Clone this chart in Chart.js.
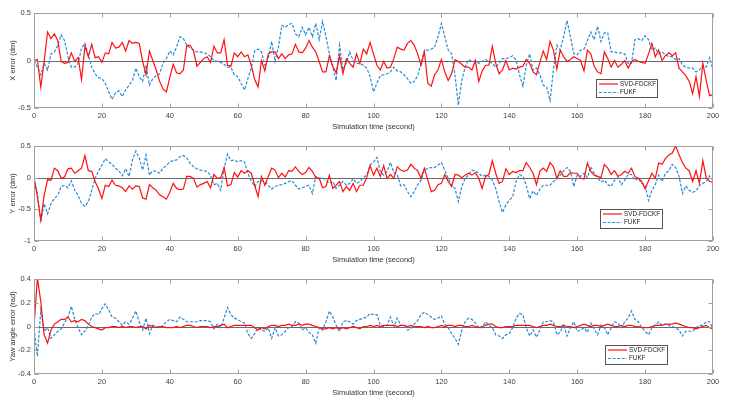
<!DOCTYPE html>
<html>
<head>
<meta charset="utf-8">
<script src="https://cdn.jsdelivr.net/npm/chart.js@4.4.1/dist/chart.umd.min.js"></script>
<style>
  html, body { margin: 0; padding: 0; background: #fff; }
  #wrap { position: relative; width: 729px; height: 402px; }
  .panel { position: absolute; left: 0; width: 729px; height: 134px; }
</style>
</head>
<body>
<div id="wrap">
  <div class="panel" style="top:0px"><canvas id="cX" width="729" height="134"></canvas></div>
  <div class="panel" style="top:133px"><canvas id="cY" width="729" height="134"></canvas></div>
  <div class="panel" style="top:266px"><canvas id="cYaw" width="729" height="134"></canvas></div>
</div>
<script>
// simulation time axis, one sample per second
const time = Array.from({length: 201}, (_, i) => i);
const timeTicks = [0, 20, 40, 60, 80, 100, 120, 140, 160, 180, 200];

const seriesNames = ['SVD-FDCKF', 'FUKF'];

// X error (dm)
const xErrFdckf = [
  0,0.01,-0.28,-0.01,0.30,0.23,0.28,0.21,-0.01,-0.03,
  -0.02,0.08,-0.01,0.03,-0.20,0.15,0.04,0.17,0.03,0.04,
  -0.02,0.08,0.07,0.19,0.13,0.14,0.19,0.10,0.21,0.18,
  0.19,0.18,-0.01,-0.15,0.10,0.00,-0.10,-0.22,-0.30,-0.33,
  -0.18,-0.04,-0.13,-0.14,-0.10,0.16,0.16,0.10,-0.06,-0.02,
  0.02,0.04,-0.02,0.15,0.08,0.08,0.22,-0.05,-0.06,0.08,
  0.04,0.09,0.04,0.06,-0.05,-0.20,-0.28,0.00,-0.11,0.07,
  0.09,0.09,0.02,0.07,0.02,0.06,0.07,0.17,0.09,0.08,
  0.13,0.21,0.14,0.09,-0.01,-0.12,-0.12,0.05,-0.06,-0.13,
  0.05,-0.14,0.02,-0.03,-0.07,0.07,-0.03,0.12,0.07,0.19,
  0.07,-0.05,-0.10,-0.01,-0.08,-0.07,0.02,0.14,0.12,0.11,
  0.18,0.21,0.16,0.07,-0.05,0.09,-0.24,-0.27,-0.15,-0.10,
  0.01,-0.12,-0.21,-0.14,0.01,-0.01,-0.04,-0.07,-0.07,-0.10,
  0.00,-0.22,-0.11,-0.05,-0.05,0.15,-0.03,-0.14,-0.10,0.00,
  -0.10,-0.08,-0.09,-0.07,-0.06,0.01,-0.03,-0.12,-0.15,-0.02,
  0.10,0.01,0.20,0.11,-0.09,0.11,0.04,-0.01,0.01,0.04,
  0.02,0.00,-0.11,0.11,0.07,-0.06,-0.12,-0.14,0.09,0.02,
  -0.07,0.00,-0.07,-0.04,0.00,-0.08,-0.01,0.01,-0.01,-0.02,
  -0.03,0.07,0.18,0.04,0.11,0.00,0.05,0.08,0.05,0.08,
  -0.08,-0.12,-0.16,-0.22,-0.35,-0.17,-0.38,-0.03,-0.21,-0.37,
  -0.36
];
const xErrFukf = [
  0,-0.07,-0.15,-0.03,-0.10,0.07,0.09,0.16,0.27,0.21,
  0.04,-0.07,-0.07,-0.03,0.13,0.18,0.06,-0.07,-0.14,-0.18,
  -0.19,-0.24,-0.33,-0.41,-0.34,-0.32,-0.38,-0.31,-0.26,-0.21,
  -0.08,-0.17,-0.22,-0.05,-0.26,-0.19,-0.16,-0.14,-0.03,0.02,
  0.10,0.06,0.14,0.25,0.23,0.16,0.13,0.11,0.09,0.09,
  0.08,0.07,0.04,0.00,-0.01,-0.02,-0.04,-0.07,-0.07,-0.15,
  -0.17,-0.24,-0.31,-0.19,-0.08,0.10,0.12,0.09,-0.05,0.02,
  0.20,-0.01,0.14,0.37,0.35,0.38,0.39,0.28,0.25,0.35,
  0.27,0.35,0.25,0.39,0.22,0.41,0.25,0.07,-0.07,-0.21,
  0.16,-0.10,-0.03,0.09,0.00,-0.03,-0.03,-0.05,-0.08,-0.17,
  -0.33,-0.24,-0.16,-0.15,-0.14,-0.12,-0.07,-0.11,-0.12,-0.15,
  -0.19,-0.24,-0.22,-0.16,-0.03,0.11,0.11,0.12,0.14,0.25,
  0.39,0.25,0.11,0.07,-0.15,-0.47,-0.21,-0.07,0.01,-0.01,
  -0.01,-0.03,-0.01,0.01,-0.01,-0.03,-0.07,-0.03,0.02,0.02,
  0.03,0.05,0.00,-0.15,-0.27,-0.05,0.07,-0.10,-0.08,-0.15,
  -0.26,-0.28,-0.42,-0.10,0.16,0.11,0.25,0.42,0.25,0.07,
  0.06,0.11,0.12,0.21,0.30,0.22,0.36,0.20,0.29,0.29,
  0.09,0.09,0.08,0.08,0.07,-0.03,-0.03,0.22,0.23,0.21,
  0.26,0.22,0.11,0.13,0.07,0.09,0.06,0.04,0.04,0.01,
  0.02,-0.05,-0.07,-0.08,-0.08,-0.12,-0.10,-0.05,-0.07,0.03,
  -0.10
];

// Y error (dm)
const yErrFdckf = [
  0,-0.30,-0.67,-0.28,-0.03,-0.04,0.15,0.11,-0.01,0.01,
  0.14,0.15,0.07,0.11,0.15,0.35,0.11,0.10,-0.06,-0.18,
  -0.33,-0.12,-0.14,-0.04,-0.12,-0.13,-0.16,-0.22,-0.13,-0.18,
  -0.13,-0.14,-0.32,-0.34,-0.11,-0.16,-0.20,-0.27,-0.30,-0.34,
  -0.23,-0.09,-0.17,-0.19,-0.18,0.02,0.02,-0.01,-0.15,-0.11,
  -0.09,-0.06,-0.16,0.05,-0.01,0.00,0.16,-0.13,-0.11,0.08,
  0.01,0.11,0.07,0.11,0.07,-0.12,-0.30,0.02,-0.12,0.02,
  0.15,0.12,0.00,0.07,0.01,0.11,0.10,0.17,0.10,0.05,
  0.08,0.16,0.10,0.00,-0.01,-0.16,-0.14,0.04,-0.17,-0.12,
  -0.06,-0.22,-0.14,-0.20,-0.09,-0.22,-0.12,-0.12,0.00,0.19,
  0.04,0.15,0.02,0.19,-0.01,0.05,-0.01,0.17,0.12,0.10,
  0.12,0.21,0.15,0.11,-0.01,0.15,-0.04,-0.22,-0.20,-0.11,
  -0.09,0.05,-0.06,-0.14,0.05,0.04,0.00,0.04,0.07,0.04,
  0.08,-0.01,-0.17,0.02,0.05,0.27,0.07,-0.09,-0.06,0.14,
  0.05,0.10,0.08,0.11,0.11,0.24,0.16,0.07,-0.11,0.10,
  0.15,0.10,0.24,0.17,-0.01,0.11,0.02,0.02,0.08,0.07,
  0.07,-0.01,-0.02,0.23,0.10,0.04,0.02,0.00,0.21,0.15,
  0.05,0.11,0.02,0.05,0.10,0.07,0.15,0.02,-0.01,-0.06,
  -0.18,-0.05,0.07,-0.01,0.23,0.21,0.30,0.36,0.39,0.50,
  0.36,0.24,0.15,0.11,-0.06,0.11,-0.09,0.27,0.00,-0.06,
  -0.07
];
const yErrFukf = [
  0,-0.25,-0.70,-0.41,-0.57,-0.41,-0.33,-0.28,-0.14,-0.12,
  -0.16,-0.05,-0.20,-0.28,-0.41,-0.45,-0.38,-0.20,-0.01,0.10,
  0.20,0.30,0.25,0.21,0.15,0.11,0.03,0.14,0.02,0.28,
  0.42,0.31,0.12,0.36,0.04,0.11,0.10,0.07,0.15,0.19,
  0.25,0.27,0.28,0.33,0.35,0.31,0.23,0.17,0.14,0.12,
  0.11,0.10,0.04,-0.11,-0.09,-0.20,0.15,0.37,0.27,0.28,
  0.25,0.27,0.25,0.07,-0.06,-0.14,-0.06,-0.05,-0.06,-0.12,
  -0.18,-0.14,-0.12,-0.11,-0.09,-0.06,-0.05,-0.12,-0.18,-0.16,
  -0.14,-0.12,-0.25,0.02,-0.01,0.00,-0.04,-0.09,-0.06,-0.17,
  -0.12,-0.06,-0.12,-0.09,-0.02,-0.09,-0.06,0.00,0.04,0.20,
  0.25,0.32,0.10,0.04,0.10,0.24,0.08,0.05,-0.13,-0.11,
  -0.22,-0.30,-0.22,-0.11,-0.04,0.12,0.15,0.16,0.16,0.20,
  0.24,0.12,-0.01,-0.12,-0.17,-0.38,-0.14,-0.01,0.04,0.12,
  0.11,0.07,0.02,0.04,0.02,-0.04,-0.17,-0.38,-0.55,-0.43,
  -0.36,-0.30,-0.06,0.05,0.02,-0.12,-0.33,-0.21,-0.28,-0.18,
  -0.12,-0.12,-0.12,-0.06,-0.02,0.04,0.11,0.16,0.10,-0.14,
  0.04,0.02,0.07,0.00,0.17,0.07,0.00,-0.07,-0.04,-0.11,
  -0.14,-0.04,0.00,-0.11,-0.04,0.05,0.05,-0.04,-0.01,-0.09,
  -0.11,-0.36,-0.20,-0.11,0.04,-0.06,0.07,0.11,0.21,0.16,
  0.02,-0.25,-0.13,-0.20,-0.23,-0.21,-0.12,-0.09,-0.06,0.03,
  -0.04
];

// Yaw angle error (rad)
const yawErrFdckf = [
  0,0.41,0.21,-0.07,-0.14,-0.03,0.02,0.04,0.06,0.06,
  0.08,0.04,0.05,0.04,0.06,0.05,0.02,0,-0.01,-0.02,
  -0.03,-0.01,-0.01,0,0,-0.01,0,-0.01,0,0,
  -0.01,0,0,-0.02,0.01,0,-0.01,0,0,-0.01,
  -0.01,-0.01,0,-0.01,0,0.01,0.01,0,-0.01,0,
  0,0,-0.01,0,0,0.01,0.02,-0.01,0,0.01,
  0.01,0.01,0.01,0.01,0.01,-0.01,-0.03,-0.01,-0.02,0,
  0.01,0.01,0,0.01,0.01,0.02,0.01,0.01,0.02,0.01,
  0.02,0.02,0.01,0,-0.01,-0.02,-0.02,-0.01,-0.02,-0.01,
  -0.02,-0.01,-0.02,-0.01,0,-0.01,-0.02,0,0,0.01,
  0,0.01,0,0.01,0.01,0.01,0.01,0,0.01,0.01,
  0,0.01,0,0,0,-0.01,0,-0.01,-0.01,0,
  0.01,0,0.01,0.01,0,0.01,0.01,0,0,0.01,
  0,-0.01,0,0.01,0.02,0.02,0,-0.01,-0.01,0,
  0,0,0.01,0.01,0.01,0.01,0.01,0,-0.01,0,
  0.01,0.01,0.02,0.01,0,0,0.01,0,0,-0.01,
  0,0.01,0.02,0.01,0,0.01,0.01,0,0.01,0.02,
  0.01,0,0,0.01,0,0.01,0.01,0,0,-0.01,
  -0.01,-0.01,0,0.01,0.01,0.01,0.02,0.02,0.02,0.03,
  0.02,0.01,0,-0.01,-0.01,-0.02,-0.01,0,0.01,-0.01,
  -0.02
];
const yawErrFukf = [
  -0.02,-0.25,0.14,-0.04,-0.01,-0.10,-0.07,-0.04,-0.02,0.03,
  0.08,0.17,0.06,-0.01,-0.07,-0.04,0.01,0.08,0.11,0.10,
  0.15,0.19,0.14,0.08,0.07,0.04,0.01,0.04,0.02,0.07,
  0.13,0.04,-0.03,0.07,-0.06,0.01,0,-0.01,0.01,0.04,
  0.06,0.05,0.04,0.08,0.06,0.04,0.04,0.04,0.04,0.05,
  0.05,0.05,0.04,-0.02,0.02,-0.01,0.07,0.16,0.10,0.07,
  0.06,0.04,0.03,-0.06,-0.10,-0.06,-0.01,-0.03,-0.04,-0.01,
  -0.10,-0.01,-0.08,-0.07,-0.04,-0.01,0,0.04,0.03,-0.03,
  -0.01,-0.05,-0.07,-0.14,-0.01,-0.03,0.04,0.13,0.08,0.01,
  -0.04,0.04,0.05,0.04,0.02,0.05,0.06,0.07,0.08,0.11,
  0.10,0.10,0.01,0,0.01,0.08,0,0.07,0.01,0.01,
  -0.03,-0.02,0.02,0.05,0.10,0.12,0.10,0.08,0.06,0.07,
  0.09,0.02,-0.01,-0.06,-0.10,-0.15,-0.03,0.04,0.07,0.06,
  0.03,-0.01,-0.01,0.04,0.01,-0.01,-0.07,-0.08,-0.10,-0.07,
  -0.06,-0.01,0.07,0.11,0.10,-0.01,-0.08,-0.03,-0.09,-0.03,
  0.04,0.04,0.05,0.04,-0.07,-0.05,0.02,-0.08,-0.01,0.04,
  -0.04,-0.03,-0.01,-0.05,0.03,-0.02,-0.07,0.01,-0.01,-0.07,
  -0.01,0.04,0.03,-0.01,0.04,0.07,0.13,0.06,0.04,-0.01,
  -0.04,-0.07,-0.01,0.01,0.04,0.01,0.02,0.01,0,-0.01,
  -0.03,-0.08,-0.04,-0.04,-0.04,-0.01,0.01,0.01,0.04,0.04,
  -0.02
];

const xErrTicks = [-0.5, 0, 0.5];
const yErrTicks = [-1, -0.5, 0, 0.5];
const yawErrTicks = [-0.4, -0.2, 0, 0.2, 0.4];

const RED = '#ff1010';
const BLUE = '#2a8ad4';
const FONT = '"Liberation Sans", Arial, Helvetica, sans-serif';

// MATLAB-like axes box, inward ticks, zero line and legend
const matlabBox = {
  id: 'matlabBox',
  beforeDatasetsDraw(chart) {
    const {ctx, chartArea: a, scales: {y}} = chart;
    const y0 = Math.round(y.getPixelForValue(0)) + 0.5;
    ctx.save();
    ctx.strokeStyle = '#6a6a6a';
    ctx.lineWidth = 1;
    ctx.beginPath();
    ctx.moveTo(a.left, y0);
    ctx.lineTo(a.right, y0);
    ctx.stroke();
    ctx.restore();
  },
  afterDatasetsDraw(chart, args, opts) {
    const {ctx, chartArea: a, scales: {x, y}} = chart;
    const L = Math.round(a.left) + 0.5, R = Math.round(a.right) - 0.5;
    const T = Math.round(a.top) + 0.5, B = Math.round(a.bottom) - 0.5;
    const tl = 4;
    ctx.save();
    ctx.strokeStyle = '#a0a0a0';
    ctx.lineWidth = 1;
    ctx.strokeRect(L, T, R - L, B - T);
    ctx.beginPath();
    x.ticks.forEach(t => {
      const px = Math.round(x.getPixelForValue(t.value)) + 0.5;
      ctx.moveTo(px, B); ctx.lineTo(px, B - tl);
      ctx.moveTo(px, T); ctx.lineTo(px, T + tl);
    });
    y.ticks.forEach(t => {
      const py = Math.round(y.getPixelForValue(t.value)) + 0.5;
      ctx.moveTo(L, py); ctx.lineTo(L + tl, py);
      ctx.moveTo(R, py); ctx.lineTo(R - tl, py);
    });
    ctx.stroke();

    // legend box
    const lg = opts.legend;
    if (lg) {
      ctx.fillStyle = '#fff';
      ctx.fillRect(lg.x, lg.y, lg.w, lg.h);
      ctx.strokeStyle = '#555';
      ctx.strokeRect(lg.x + 0.5, lg.y + 0.5, lg.w, lg.h);
      ctx.font = '6.3px ' + FONT;
      ctx.textBaseline = 'middle';
      chart.data.datasets.forEach((ds, i) => {
        const cy = lg.y + 5 + i * 8.5;
        ctx.strokeStyle = ds.borderColor;
        ctx.lineWidth = ds.borderWidth;
        ctx.setLineDash(ds.borderDash || []);
        ctx.beginPath();
        ctx.moveTo(lg.x + 3, cy);
        ctx.lineTo(lg.x + 22, cy);
        ctx.stroke();
        ctx.setLineDash([]);
        ctx.fillStyle = '#222';
        ctx.fillText(ds.label, lg.x + 24, cy);
      });
    }
    ctx.restore();
  }
};

function makeChart(id, red, blue, yMin, yMax, yTicks, yTitle, legend) {
  const pts = v => v.map((val, i) => ({x: time[i], y: val}));
  return new Chart(document.getElementById(id), {
    type: 'line',
    data: {
      datasets: [
        {label: seriesNames[0], data: pts(red), borderColor: RED, borderWidth: 1.2,
         pointRadius: 0, tension: 0, fill: false},
        {label: seriesNames[1], data: pts(blue), borderColor: BLUE, borderWidth: 1.2,
         borderDash: [3, 1.6], pointRadius: 0, tension: 0, fill: false}
      ]
    },
    options: {
      responsive: false,
      animation: false,
      devicePixelRatio: 1,
      layout: {padding: {top: 13, right: 16, left: 0, bottom: 0}},
      plugins: {
        legend: {display: false},
        tooltip: {enabled: false},
        matlabBox: {legend: legend}
      },
      scales: {
        x: {
          type: 'linear', min: 0, max: 200,
          grid: {display: false, drawTicks: false},
          border: {display: false},
          afterBuildTicks: s => { s.ticks = timeTicks.map(v => ({value: v})); },
          afterFit: s => { s.height = 26; },
          ticks: {color: '#404040', font: {size: 7.5, family: FONT}, padding: 3, maxRotation: 0,
                  callback: v => String(v)},
          title: {display: true, text: 'Simulation time (second)', color: '#333',
                  font: {size: 7.5, family: FONT}, padding: {top: 0, bottom: 3}}
        },
        y: {
          min: yMin, max: yMax,
          grid: {display: false, drawTicks: false},
          border: {display: false},
          afterBuildTicks: s => { s.ticks = yTicks.map(v => ({value: v})); },
          afterFit: s => { s.width = 34; },
          ticks: {color: '#404040', font: {size: 7.5, family: FONT}, padding: 3,
                  callback: v => String(v)},
          title: {display: true, text: yTitle, color: '#333',
                  font: {size: 7.5, family: FONT}, padding: {top: 8, bottom: 0}}
        }
      }
    },
    plugins: [matlabBox]
  });
}

makeChart('cX', xErrFdckf, xErrFukf, -0.5, 0.5, xErrTicks, 'X error (dm)',
  {x: 596, y: 79, w: 61, h: 18});
makeChart('cY', yErrFdckf, yErrFukf, -1, 0.5, yErrTicks, 'Y error (dm)',
  {x: 600, y: 76, w: 62, h: 19});
makeChart('cYaw', yawErrFdckf, yawErrFukf, -0.4, 0.4, yawErrTicks, 'Yaw angle error (rad)',
  {x: 605, y: 79, w: 62, h: 19});
</script>
</body>
</html>
